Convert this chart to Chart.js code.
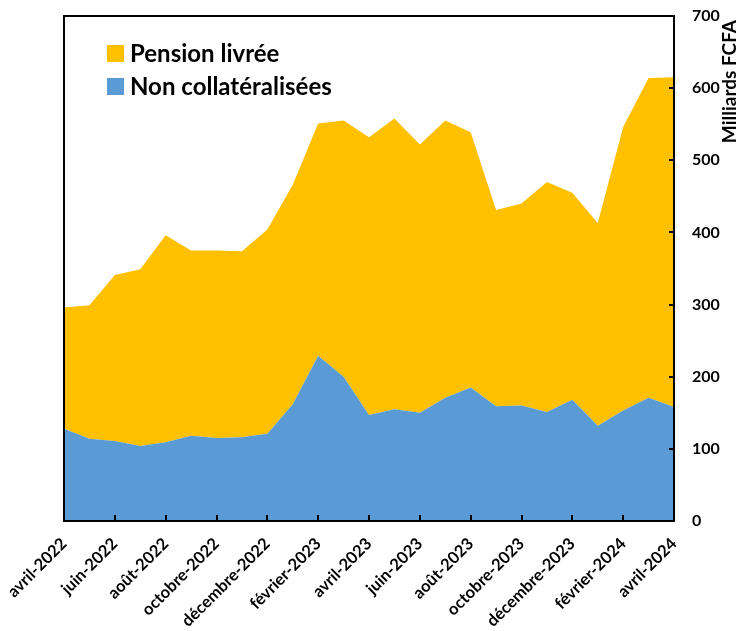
<!DOCTYPE html>
<html>
<head>
<meta charset="utf-8">
<script src="https://cdn.jsdelivr.net/npm/chart.js@4.4.1/dist/chart.umd.min.js"></script>
<style>
  html, body { margin: 0; padding: 0; background: #ffffff; }
  #wrap { width: 749px; height: 631px; }
</style>
</head>
<body>
<div id="wrap"><canvas id="chart"></canvas></div>
<script>
// monthly stock, Milliards FCFA
var months = [
  'avril-2022', 'mai-2022', 'juin-2022', 'juillet-2022', 'août-2022', 'septembre-2022',
  'octobre-2022', 'novembre-2022', 'décembre-2022', 'janvier-2023', 'février-2023', 'mars-2023',
  'avril-2023', 'mai-2023', 'juin-2023', 'juillet-2023', 'août-2023', 'septembre-2023',
  'octobre-2023', 'novembre-2023', 'décembre-2023', 'janvier-2024', 'février-2024', 'mars-2024',
  'avril-2024'
];
var nonCollat = [128, 114, 111, 104, 109, 118, 115, 116, 121, 162, 229, 200,
                 147, 155, 150, 171, 185, 159, 160, 151, 168, 132, 153, 171, 158];
var pension = [168, 185, 230, 245, 287, 257, 260, 258, 283, 304, 322, 355,
               385, 403, 372, 384, 354, 272, 280, 319, 287, 281, 393, 443, 457];
var yTicks = [0, 100, 200, 300, 400, 500, 600, 700];
var axisTitle = 'Milliards FCFA';

var FONT = 'Lato';

var extras = {
  id: 'extras',
  afterDraw: function(chart) {
    var ctx = chart.ctx;
    var a = chart.chartArea;
    var xs = chart.scales.x, ys = chart.scales.y;
    ctx.save();
    ctx.globalAlpha = 1;
    ctx.setLineDash([]);
    // frame
    ctx.strokeStyle = '#000000';
    ctx.lineWidth = 2;
    ctx.beginPath();
    ctx.rect(a.left, a.top, a.right - a.left, a.bottom - a.top);
    ctx.stroke();
    // inward tick marks
    ctx.beginPath();
    for (var i = 0; i < months.length; i += 2) {
      var px = Math.round(xs.getPixelForValue(i));
      ctx.moveTo(px, a.bottom);
      ctx.lineTo(px, a.bottom - 6);
    }
    yTicks.forEach(function(v) {
      var py = Math.round(ys.getPixelForValue(v));
      ctx.moveTo(a.right, py);
      ctx.lineTo(a.right - 5, py);
    });
    ctx.stroke();
    // legend inside the plot
    ctx.font = 'bold 24px ' + FONT;
    ctx.textBaseline = 'middle';
    ctx.textAlign = 'left';
    var items = chart.data.datasets.slice().reverse();
    items.forEach(function(ds, k) {
      var cy = a.top + 37 + k * 33;
      ctx.fillStyle = ds.backgroundColor;
      ctx.fillRect(a.left + 43, cy - 8, 17, 17);
      ctx.fillStyle = '#000';
      ctx.fillText(ds.label, a.left + 66, cy + 1);
    });
    // right axis title, reading upwards
    ctx.translate(730, a.top + 4);
    ctx.rotate(-Math.PI / 2);
    ctx.textAlign = 'right';
    ctx.font = 'bold 19px ' + FONT;
    ctx.fillText(axisTitle, 0, 0);
    ctx.restore();
  }
};

new Chart(document.getElementById('chart'), {
  type: 'line',
  data: {
    labels: months,
    datasets: [{
      label: 'Non collatéralisées',
      data: nonCollat,
      backgroundColor: '#5B9BD5',
      borderWidth: 0,
      pointRadius: 0,
      fill: 'origin'
    }, {
      label: 'Pension livrée',
      data: pension,
      backgroundColor: '#FFC000',
      borderWidth: 0,
      pointRadius: 0,
      fill: '-1'
    }]
  },
  options: {
    responsive: true,
    maintainAspectRatio: false,
    animation: false,
    layout: { padding: { left: 64, top: 16, right: 0, bottom: 0 } },
    plugins: {
      legend: { display: false },
      tooltip: { enabled: false }
    },
    scales: {
      x: {
        offset: false,
        grid: { display: false },
        border: { display: false },
        afterFit: function(s) { s.height = 110; s.paddingLeft = 0; s.paddingRight = 0; },
        ticks: {
          autoSkip: false,
          minRotation: 45,
          maxRotation: 45,
          padding: 5,
          color: '#000',
          font: { family: FONT, size: 16.5, weight: 'bold' },
          callback: function(v, i) { return i % 2 === 0 ? months[i] : ''; }
        }
      },
      y: {
        position: 'right',
        stacked: true,
        min: 0,
        max: 700,
        grid: { display: false },
        border: { display: false },
        afterFit: function(s) { s.width = 75; s.paddingTop = 0; s.paddingBottom = 0; },
        afterBuildTicks: function(s) { s.ticks = yTicks.map(function(v) { return { value: v }; }); },
        ticks: {
          padding: 10,
          color: '#000',
          font: { family: FONT, size: 16, weight: 'bold' }
        }
      }
    }
  },
  plugins: [extras]
});
</script>
</body>
</html>
